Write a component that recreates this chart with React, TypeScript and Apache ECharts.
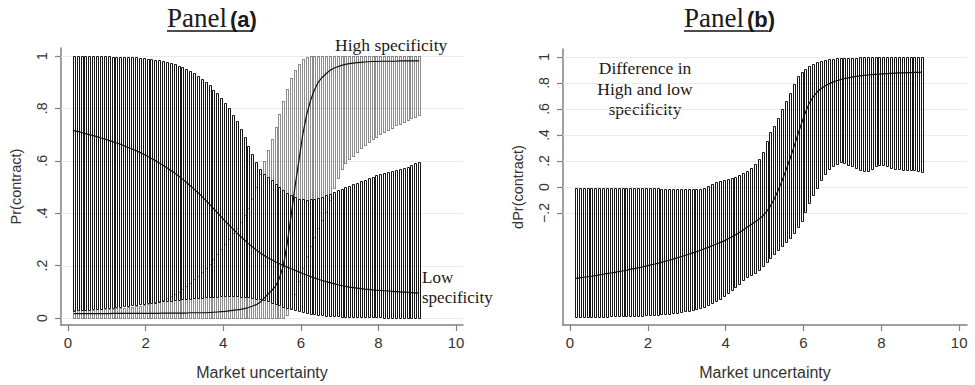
import React, { useEffect, useRef } from "react";
import * as echarts from "echarts";

// Market uncertainty values (x) at which the estimates are shown
const xValues = [
  0.15, 0.25, 0.35, 0.45, 0.55, 0.65, 0.75, 0.85, 0.95, 1.05,
  1.15, 1.25, 1.35, 1.45, 1.55, 1.65, 1.75, 1.85, 1.95, 2.05,
  2.15, 2.25, 2.35, 2.45, 2.55, 2.65, 2.75, 2.85, 2.95, 3.05,
  3.15, 3.25, 3.35, 3.45, 3.55, 3.65, 3.75, 3.85, 3.95, 4.05,
  4.15, 4.25, 4.35, 4.45, 4.55, 4.65, 4.75, 4.85, 4.95, 5.05,
  5.15, 5.25, 5.35, 5.45, 5.55, 5.65, 5.75, 5.85, 5.95, 6.05,
  6.15, 6.25, 6.35, 6.45, 6.55, 6.65, 6.75, 6.85, 6.95, 7.05,
  7.15, 7.25, 7.35, 7.45, 7.55, 7.65, 7.75, 7.85, 7.95, 8.05,
  8.15, 8.25, 8.35, 8.45, 8.55, 8.65, 8.75, 8.85, 8.95, 9.05,
];

// Panel (a): low specificity
const lowUpper = [
  1.0, 1.0, 1.0, 1.0, 1.0, 1.0, 0.999, 0.999, 0.999, 0.999,
  0.998, 0.998, 0.998, 0.997, 0.997, 0.996, 0.995, 0.994, 0.992, 0.99,
  0.988, 0.986, 0.983, 0.98, 0.977, 0.973, 0.969, 0.963, 0.957, 0.95,
  0.942, 0.934, 0.924, 0.914, 0.902, 0.889, 0.872, 0.857, 0.84, 0.82,
  0.8, 0.775, 0.75, 0.72, 0.69, 0.655, 0.625, 0.595, 0.57, 0.55,
  0.538, 0.525, 0.512, 0.5, 0.49, 0.479, 0.47, 0.462, 0.456, 0.453,
  0.452, 0.453, 0.456, 0.459, 0.463, 0.468, 0.474, 0.48, 0.487, 0.494,
  0.5, 0.505, 0.51, 0.515, 0.521, 0.527, 0.533, 0.539, 0.545, 0.55,
  0.553, 0.556, 0.56, 0.564, 0.568, 0.573, 0.578, 0.584, 0.59, 0.596,
];
const lowMean = [
  0.715, 0.712, 0.708, 0.704, 0.7, 0.696, 0.692, 0.687, 0.683, 0.678,
  0.673, 0.668, 0.663, 0.657, 0.651, 0.645, 0.639, 0.632, 0.625, 0.617,
  0.609, 0.601, 0.592, 0.583, 0.573, 0.563, 0.553, 0.542, 0.53, 0.518,
  0.505, 0.492, 0.478, 0.464, 0.449, 0.434, 0.418, 0.402, 0.386, 0.37,
  0.355, 0.34, 0.325, 0.311, 0.297, 0.284, 0.272, 0.26, 0.249, 0.239,
  0.23, 0.222, 0.214, 0.207, 0.2, 0.194, 0.188, 0.182, 0.176, 0.17,
  0.164, 0.158, 0.153, 0.148, 0.143, 0.139, 0.135, 0.131, 0.127, 0.124,
  0.121, 0.118, 0.116, 0.114, 0.112, 0.11, 0.109, 0.107, 0.106, 0.105,
  0.104, 0.103, 0.102, 0.101, 0.1, 0.099, 0.098, 0.097, 0.096, 0.095,
];
const lowLower = [
  0.028, 0.029, 0.03, 0.031, 0.032, 0.033, 0.035, 0.036, 0.037, 0.039,
  0.04, 0.042, 0.043, 0.045, 0.047, 0.048, 0.05, 0.052, 0.054, 0.056,
  0.058, 0.059, 0.061, 0.063, 0.065, 0.066, 0.068, 0.07, 0.071, 0.073,
  0.074, 0.076, 0.077, 0.078, 0.079, 0.08, 0.081, 0.082, 0.083, 0.083,
  0.083, 0.083, 0.083, 0.082, 0.081, 0.079, 0.077, 0.074, 0.071, 0.067,
  0.063, 0.058, 0.053, 0.048, 0.043, 0.038, 0.033, 0.029, 0.025, 0.022,
  0.019, 0.016, 0.014, 0.012, 0.01, 0.009, 0.008, 0.007, 0.006, 0.005,
  0.005, 0.004, 0.004, 0.003, 0.003, 0.003, 0.002, 0.002, 0.002, 0.002,
  0.001, 0.001, 0.001, 0.001, 0.001, 0.001, 0.0, 0.0, 0.0, 0.0,
];

// Panel (a): high specificity
const highUpper = [
  0.03, 0.03, 0.031, 0.031, 0.032, 0.032, 0.033, 0.033, 0.034, 0.035,
  0.036, 0.037, 0.038, 0.039, 0.041, 0.043, 0.045, 0.047, 0.05, 0.053,
  0.056, 0.06, 0.065, 0.07, 0.076, 0.083, 0.091, 0.1, 0.11, 0.122,
  0.134, 0.147, 0.161, 0.176, 0.192, 0.208, 0.225, 0.243, 0.262, 0.282,
  0.302, 0.323, 0.345, 0.368, 0.392, 0.42, 0.455, 0.5, 0.55, 0.6,
  0.64, 0.685, 0.73, 0.78, 0.83, 0.875, 0.915, 0.945, 0.97, 0.988,
  0.996, 0.999, 1.0, 1.0, 1.0, 1.0, 1.0, 1.0, 1.0, 1.0,
  1.0, 1.0, 1.0, 1.0, 1.0, 1.0, 1.0, 1.0, 1.0, 1.0,
  1.0, 1.0, 1.0, 1.0, 1.0, 1.0, 1.0, 1.0, 1.0, 1.0,
];
const highMean = [
  0.017, 0.017, 0.017, 0.017, 0.017, 0.017, 0.017, 0.017, 0.017, 0.017,
  0.018, 0.018, 0.018, 0.018, 0.018, 0.018, 0.018, 0.018, 0.018, 0.018,
  0.018, 0.018, 0.018, 0.019, 0.019, 0.019, 0.019, 0.019, 0.019, 0.019,
  0.02, 0.02, 0.02, 0.02, 0.02, 0.021, 0.022, 0.023, 0.024, 0.025,
  0.027, 0.029, 0.031, 0.033, 0.036, 0.04, 0.045, 0.051, 0.06, 0.075,
  0.09, 0.105, 0.122, 0.152, 0.2, 0.285, 0.39, 0.5, 0.6, 0.7,
  0.775, 0.83, 0.87, 0.9, 0.918, 0.932, 0.945, 0.953, 0.959, 0.964,
  0.968, 0.971, 0.973, 0.975, 0.976, 0.977, 0.978, 0.979, 0.979, 0.98,
  0.98, 0.98, 0.98, 0.98, 0.981, 0.981, 0.981, 0.981, 0.981, 0.981,
];
const highLower = [
  0.0, 0.0, 0.0, 0.0, 0.0, 0.0, 0.0, 0.0, 0.0, 0.0,
  0.0, 0.0, 0.0, 0.0, 0.0, 0.0, 0.0, 0.0, 0.0, 0.0,
  0.0, 0.0, 0.0, 0.0, 0.0, 0.0, 0.0, 0.0, 0.0, 0.0,
  0.0, 0.0, 0.0, 0.0, 0.0, 0.0, 0.0, 0.0, 0.0, 0.0,
  0.0, 0.0, 0.0, 0.0, 0.0, 0.0, 0.0, 0.0, 0.0, 0.0,
  0.0, 0.0, 0.0, 0.0, 0.0, 0.01, 0.04, 0.09, 0.14, 0.19,
  0.235, 0.275, 0.31, 0.345, 0.375, 0.405, 0.45, 0.495, 0.535, 0.57,
  0.59, 0.605, 0.62, 0.635, 0.648, 0.66, 0.671, 0.682, 0.692, 0.701,
  0.71, 0.719, 0.727, 0.735, 0.742, 0.749, 0.756, 0.763, 0.769, 0.775,
];

// Panel (b): difference high - low specificity
const diffUpper = [
  -0.008, -0.008, -0.008, -0.008, -0.008, -0.009, -0.009, -0.009, -0.009, -0.009,
  -0.01, -0.01, -0.01, -0.01, -0.01, -0.01, -0.01, -0.01, -0.01, -0.01,
  -0.011, -0.011, -0.012, -0.012, -0.013, -0.013, -0.014, -0.014, -0.015, -0.015,
  -0.015, -0.014, -0.012, -0.008, 0.005, 0.025, 0.035, 0.043, 0.05, 0.058,
  0.067, 0.078, 0.09, 0.105, 0.125, 0.148, 0.18, 0.215, 0.27, 0.35,
  0.42, 0.47, 0.53, 0.6, 0.66, 0.72, 0.79, 0.85, 0.885, 0.91,
  0.93, 0.948, 0.96, 0.968, 0.975, 0.981, 0.985, 0.988, 0.99, 0.992,
  0.993, 0.994, 0.995, 0.996, 0.997, 0.997, 0.998, 0.998, 0.999, 0.999,
  0.999, 0.999, 1.0, 1.0, 1.0, 1.0, 1.0, 1.0, 1.0, 1.0,
];
const diffMean = [
  -0.702, -0.698, -0.694, -0.69, -0.686, -0.681, -0.676, -0.671, -0.666, -0.661,
  -0.656, -0.651, -0.646, -0.64, -0.634, -0.628, -0.622, -0.615, -0.608, -0.601,
  -0.594, -0.587, -0.579, -0.571, -0.563, -0.554, -0.545, -0.536, -0.527, -0.517,
  -0.507, -0.497, -0.486, -0.475, -0.464, -0.452, -0.44, -0.428, -0.416, -0.4,
  -0.385, -0.368, -0.35, -0.33, -0.31, -0.29, -0.27, -0.248, -0.225, -0.19,
  -0.145, -0.09, -0.025, 0.05, 0.13, 0.215, 0.305, 0.4, 0.49, 0.575,
  0.645, 0.695, 0.73, 0.757, 0.777, 0.793, 0.806, 0.817, 0.826, 0.833,
  0.839, 0.845, 0.85, 0.854, 0.858, 0.861, 0.864, 0.866, 0.868, 0.87,
  0.872, 0.874, 0.875, 0.877, 0.878, 0.879, 0.88, 0.881, 0.882, 0.883,
];
const diffLower = [
  -0.998, -0.998, -0.998, -0.998, -0.997, -0.997, -0.997, -0.996, -0.996, -0.995,
  -0.995, -0.994, -0.993, -0.992, -0.991, -0.99, -0.989, -0.988, -0.987, -0.985,
  -0.983, -0.981, -0.979, -0.976, -0.973, -0.97, -0.966, -0.962, -0.957, -0.952,
  -0.946, -0.94, -0.932, -0.92, -0.907, -0.892, -0.876, -0.858, -0.838, -0.818,
  -0.795, -0.77, -0.743, -0.715, -0.695, -0.677, -0.658, -0.636, -0.607, -0.577,
  -0.545, -0.515, -0.485, -0.455, -0.425, -0.39, -0.35, -0.31, -0.26, -0.19,
  -0.12, -0.06, -0.005, 0.05, 0.1, 0.135, 0.16, 0.178, 0.19, 0.185,
  0.172, 0.158, 0.145, 0.133, 0.124, 0.122, 0.135, 0.158, 0.172, 0.17,
  0.16, 0.148, 0.14, 0.136, 0.134, 0.133, 0.132, 0.13, 0.126, 0.112,
];

// Tick values and labels
const xTicks = [0, 2, 4, 6, 8, 10];
const xTickLabels = ["0", "2", "4", "6", "8", "10"];
const yTicksA = [0, 0.2, 0.4, 0.6, 0.8, 1];
const yTickLabelsA = ["0", ".2", ".4", ".6", ".8", "1"];
const yTicksB = [-0.2, 0, 0.2, 0.4, 0.6, 0.8, 1];
const yTickLabelsB = ["\u2212.2", "0", ".2", ".4", ".6", ".8", "1"];

const SANS = '"Liberation Sans", Arial, sans-serif';
const SERIF = '"Liberation Serif", "Times New Roman", serif';
const AXIS_GRAY = "#808080";

const lookup = (ticks: number[], labels: string[]) => (v: number) => {
  let best = 0;
  for (let i = 1; i < ticks.length; i++) {
    if (Math.abs(ticks[i] - v) < Math.abs(ticks[best] - v)) best = i;
  }
  return labels[best];
};

function barsSeries(idx: number, lows: number[], highs: number[], dashed: boolean) {
  return {
    type: "custom",
    xAxisIndex: idx,
    yAxisIndex: idx,
    z: dashed ? 3 : 2,
    silent: true,
    clip: false,
    data: xValues.map((x, i) => [x, lows[i], highs[i]]),
    encode: { x: 0, y: [1, 2] },
    renderItem: (_p: any, api: any) => {
      const x = api.value(0);
      const top = api.coord([x, api.value(2)]);
      const bot = api.coord([x, api.value(1)]);
      const left = Math.round(top[0] - 1) + 0.5;
      const y0 = Math.round(top[1]) + 0.5;
      const y1 = Math.round(bot[1]) + 0.5;
      return {
        type: "rect",
        shape: { x: left, y: y0, width: 2, height: Math.max(y1 - y0, 0) },
        style: {
          fill: "none",
          stroke: dashed ? "#1a1a1a" : "#151515",
          lineWidth: 1,
          lineDash: dashed ? [1, 1] : null,
        },
      };
    },
  };
}

function gridSeries(idx: number, ticks: number[]) {
  return {
    type: "custom",
    xAxisIndex: idx,
    yAxisIndex: idx,
    z: 1,
    silent: true,
    data: ticks.map((v) => [0, v]),
    encode: { x: 0, y: 1 },
    renderItem: (params: any, api: any) => {
      const cs = params.coordSys;
      const p = api.coord([0, api.value(1)]);
      const y = Math.round(p[1]) + 0.5;
      return {
        type: "line",
        shape: { x1: cs.x, y1: y, x2: cs.x + cs.width, y2: y },
        style: { stroke: "#ebebeb", lineWidth: 1 },
      };
    },
  };
}

function meanSeries(idx: number, vals: number[]) {
  return {
    type: "line",
    xAxisIndex: idx,
    yAxisIndex: idx,
    z: 5,
    silent: true,
    symbol: "none",
    showSymbol: false,
    data: xValues.map((x, i) => [x, vals[i]]),
    lineStyle: { color: "#111", width: 1.2 },
  };
}

function xAxisCfg(idx: number, min: number, max: number) {
  return {
    type: "value",
    gridIndex: idx,
    min,
    max,
    axisLine: { show: true, onZero: false, lineStyle: { color: AXIS_GRAY, width: 1.5 } },
    axisTick: { show: true, length: 6, customValues: xTicks, lineStyle: { color: AXIS_GRAY, width: 1.2 } },
    axisLabel: {
      customValues: xTicks,
      formatter: lookup(xTicks, xTickLabels),
      fontSize: 15,
      fontFamily: SANS,
      color: "#333",
      margin: 10,
    },
    splitLine: { show: false },
    name: "Market uncertainty",
    nameLocation: "middle",
    nameGap: 39,
    nameTextStyle: { fontSize: 16, fontFamily: SANS, color: "#333" },
  };
}

function yAxisCfg(idx: number, min: number, max: number, ticks: number[], labels: string[], name: string) {
  return {
    type: "value",
    gridIndex: idx,
    min,
    max,
    axisLine: { show: true, onZero: false, lineStyle: { color: AXIS_GRAY, width: 1.5 } },
    axisTick: { show: true, length: 6, customValues: ticks, lineStyle: { color: AXIS_GRAY, width: 1.2 } },
    axisLabel: {
      customValues: ticks,
      formatter: lookup(ticks, labels),
      rotate: 90,
      fontSize: 14,
      fontFamily: SANS,
      color: "#333",
      margin: 12,
    },
    splitLine: { show: false },
    name,
    nameLocation: "middle",
    nameRotate: 90,
    nameGap: 38,
    nameTextStyle: { fontSize: 14.5, fontFamily: SANS, color: "#333" },
  };
}

function txt(x: number, y: number, text: string, font: string, align = "left") {
  return {
    type: "text",
    x,
    y,
    silent: true,
    style: { text, font, fill: "#1a1a1a", align, verticalAlign: "middle" },
  };
}

export default function App() {
  const ref = useRef<HTMLDivElement>(null);
  useEffect(() => {
    if (!ref.current) return;
    const chart = echarts.init(ref.current, undefined, { renderer: "svg" });
    const option: any = {
      animation: false,
      backgroundColor: "#fff",
      grid: [
        { left: 61, top: 48, width: 402, height: 277 },
        { left: 563, top: 49, width: 404, height: 278 },
      ],
      xAxis: [xAxisCfg(0, -0.18, 10.18), xAxisCfg(1, -0.18, 10.2)],
      yAxis: [
        yAxisCfg(0, -0.0267, 1.0305, yTicksA, yTickLabelsA, "Pr(contract)"),
        yAxisCfg(1, -1.061, 1.061, yTicksB, yTickLabelsB, "dPr(contract)"),
      ],
      series: [
        gridSeries(0, yTicksA),
        gridSeries(1, yTicksB),
        barsSeries(0, lowLower, lowUpper, false),
        barsSeries(0, highLower, highUpper, true),
        meanSeries(0, lowMean),
        meanSeries(0, highMean),
        barsSeries(1, diffLower, diffUpper, false),
        meanSeries(1, diffMean),
      ],
      graphic: [
        txt(167, 18.2, "Panel", `27px ${SERIF}`),
        txt(230, 19.7, "(a)", `bold 22px ${SANS}`),
        { type: "line", silent: true, shape: { x1: 167, y1: 31, x2: 252, y2: 31 }, style: { stroke: "#111", lineWidth: 1.5 } },
        txt(684, 18.2, "Panel", `27px ${SERIF}`),
        txt(747, 19.7, "(b)", `bold 22px ${SANS}`),
        { type: "line", silent: true, shape: { x1: 684, y1: 31, x2: 768, y2: 31 }, style: { stroke: "#111", lineWidth: 1.5 } },
        txt(335, 44.6, "High specificity", `17.5px ${SERIF}`),
        txt(422, 277, "Low", `17px ${SERIF}`),
        txt(422, 297, "specificity", `17px ${SERIF}`),
        txt(645, 68, "Difference in", `17.5px ${SERIF}`, "center"),
        txt(645, 89, "High and low", `17.5px ${SERIF}`, "center"),
        txt(645, 109, "specificity", `17.5px ${SERIF}`, "center"),
      ],
    };
    chart.setOption(option);
    return () => chart.dispose();
  }, []);
  return (
    <div
      ref={ref}
      style={{ position: "absolute", left: 0, top: 0, width: 975, height: 385, background: "#fff" }}
    />
  );
}
